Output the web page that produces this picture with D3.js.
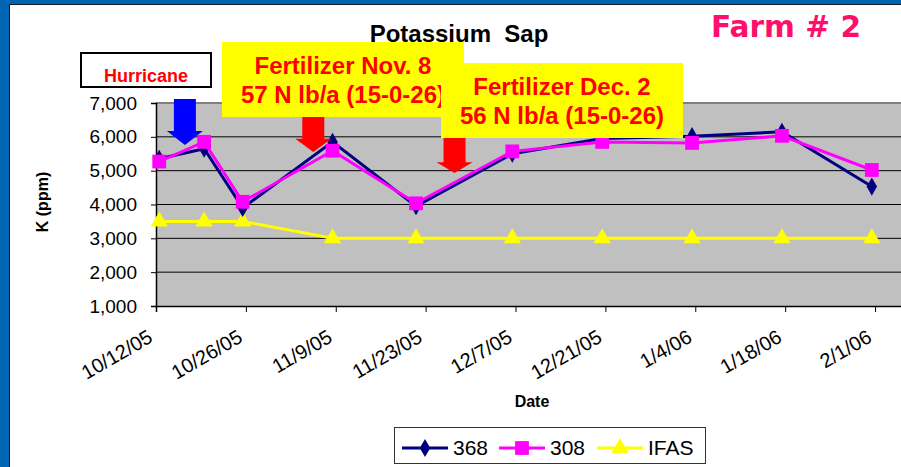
<!DOCTYPE html>
<html>
<head>
<meta charset="utf-8">
<script src="https://cdn.jsdelivr.net/npm/d3@7"></script>
<style>
  body { margin: 0; background: #fff; }
  svg { display: block; }
  svg text { font-family: "Liberation Sans", Arial, sans-serif; }
</style>
</head>
<body>
<svg id="chart" width="901" height="467"></svg>
<script>
// sample dates and K sap readings (ppm)
const sampleDates = ['2005-10-12', '2005-10-19', '2005-10-25', '2005-11-08', '2005-11-21',
  '2005-12-06', '2005-12-20', '2006-01-03', '2006-01-17', '2006-01-31'];
const k368 = [5350, 5650, 3900, 5850, 3950, 5500, 5950, 6020, 6150, 4530];
const k308 = [5270, 5850, 4080, 5590, 4035, 5570, 5850, 5820, 6030, 5020];
const kIfas = [3500, 3500, 3500, 3000, 3000, 3000, 3000, 3000, 3000, 3000];

const xTickLabels = ['10/12/05', '10/26/05', '11/9/05', '11/23/05', '12/7/05',
  '12/21/05', '1/4/06', '1/18/06', '2/1/06'];
const yTickValues = [1000, 2000, 3000, 4000, 5000, 6000, 7000];

// event arrows: date, tip value, value where the head starts, top value
const arrows = [
  {date: '2005-10-16', tip: 5760, head: 6170, top: 7120, color: '#0000ff'},
  {date: '2005-11-05', tip: 5550, head: 5940, top: 6800, color: '#ff0000'},
  {date: '2005-11-27', tip: 4930, head: 5250, top: 6200, color: '#ff0000'},
];

const parse = d3.timeParse('%Y-%m-%d');
const parseTick = d3.timeParse('%m/%d/%y');

const W = 901, H = 467;
const plot = {left: 156, top: 103, bottom: 306};

const svg = d3.select('#chart');

// blue frame
svg.append('rect').attr('width', W).attr('height', H).attr('fill', '#0066b3');
svg.append('rect')
  .attr('x', 9.5).attr('y', 4.5)
  .attr('width', W).attr('height', H)
  .attr('fill', '#fff').attr('stroke', '#1a1a1a').attr('stroke-width', 1);

const x = d3.scaleTime()
  .domain([parse('2005-10-12'), parse('2006-02-15')])
  .range([plot.left, plot.left + 126 * 6.42]);
const halfDay = (x(parse('2005-10-13')) - x(parse('2005-10-12'))) / 2;
const px = (d) => x(parse(d)) + halfDay;

const y = d3.scaleLinear().domain([1000, 7000]).range([plot.bottom, plot.top]);

// plot area
svg.append('rect')
  .attr('x', plot.left).attr('y', plot.top)
  .attr('width', W - plot.left).attr('height', plot.bottom - plot.top)
  .attr('fill', '#c0c0c0');

// gridlines
svg.append('g')
  .selectAll('line')
  .data(yTickValues.filter((v) => v > 1000 && v < 7000))
  .join('line')
  .attr('x1', plot.left).attr('x2', W)
  .attr('y1', (d) => y(d)).attr('y2', (d) => y(d))
  .attr('stroke', '#000').attr('stroke-width', 1);

svg.append('line')
  .attr('x1', plot.left).attr('x2', W)
  .attr('y1', plot.top).attr('y2', plot.top)
  .attr('stroke', '#808080').attr('stroke-width', 2);

// y axis
const yAxis = svg.append('g')
  .attr('transform', `translate(${plot.left},0)`)
  .call(d3.axisLeft(y).tickValues(yTickValues).tickSize(5).tickPadding(14)
    .tickFormat(d3.format(',')));
yAxis.attr('font-family', null).attr('font-size', null);
yAxis.select('.domain').attr('stroke', '#000').attr('stroke-width', 1.5);
yAxis.selectAll('line').attr('stroke', '#000');
yAxis.selectAll('text')
  .attr('fill', '#000')
  .style('font-size', '19px');

// x axis
const tickDates = xTickLabels.map((s) => parseTick(s));
const xAxis = svg.append('g')
  .attr('transform', `translate(0,${plot.bottom})`)
  .call(d3.axisBottom(x).tickValues(tickDates).tickSize(6).tickFormat(''));
xAxis.select('.domain').attr('stroke', '#000').attr('stroke-width', 1.5);
xAxis.selectAll('line').attr('stroke', '#000');

svg.append('g')
  .selectAll('text')
  .data(xTickLabels)
  .join('text')
  .attr('transform', (d) => `translate(${x(parseTick(d)) - 2},${plot.bottom + 35}) rotate(-30)`)
  .attr('text-anchor', 'end')
  .style('font-size', '20px')
  .attr('fill', '#000')
  .text((d) => d);

// axis titles
svg.append('text')
  .attr('transform', 'translate(48,202) rotate(-90)')
  .attr('text-anchor', 'middle')
  .style('font-size', '16px').style('font-weight', 'bold')
  .text('K (ppm)');

svg.append('text')
  .attr('x', 532).attr('y', 407)
  .attr('text-anchor', 'middle')
  .style('font-size', '16px').style('font-weight', 'bold')
  .text('Date');

// title
svg.append('text')
  .attr('x', 459).attr('y', 42)
  .attr('text-anchor', 'middle')
  .style('font-size', '24px').style('font-weight', 'bold')
  .style('white-space', 'pre')
  .text('Potassium  Sap');

svg.append('text')
  .attr('x', 711).attr('y', 37)
  .attr('textLength', 150).attr('lengthAdjust', 'spacingAndGlyphs')
  .style('font-family', '"Comic Sans MS", "DejaVu Sans", sans-serif')
  .style('font-size', '30px').style('font-weight', 'bold')
  .attr('fill', '#ff0f6b')
  .text('Farm # 2');

// series
const series = [
  {name: '368', values: k368, color: '#000080', shape: d3.symbolDiamond, size: 95},
  {name: '308', values: k308, color: '#ff00ff', shape: d3.symbolSquare, size: 190},
  {name: 'IFAS', values: kIfas, color: '#ffff00', shape: d3.symbolTriangle, size: 130},
];

const line = d3.line()
  .x((d) => px(d.date))
  .y((d) => y(d.value));

const drawOrder = [series[2], series[0], series[1]];
drawOrder.forEach((s) => {
  const pts = sampleDates.map((d, i) => ({date: d, value: s.values[i]}));
  svg.append('path')
    .datum(pts)
    .attr('fill', 'none')
    .attr('stroke', s.color)
    .attr('stroke-width', 3)
    .attr('d', line);
  svg.append('g')
    .selectAll('path')
    .data(pts)
    .join('path')
    .attr('transform', (d) => `translate(${px(d.date)},${y(d.value)})`)
    .attr('d', d3.symbol().type(s.shape).size(s.size))
    .attr('fill', s.color);
});

// arrows
const arrowPath = (a) => {
  const cx = x(parse(a.date)) + halfDay;
  const sw = 11, hw = 18;
  const tip = y(a.tip), head = y(a.head), top = y(a.top);
  return `M${cx - sw},${top}L${cx + sw},${top}L${cx + sw},${head}L${cx + hw},${head}` +
    `L${cx},${tip}L${cx - hw},${head}L${cx - sw},${head}Z`;
};
svg.append('g')
  .selectAll('path')
  .data(arrows)
  .join('path')
  .attr('d', arrowPath)
  .attr('fill', (d) => d.color);

// annotation boxes
const hurricane = svg.append('g');
hurricane.append('rect')
  .attr('x', 81).attr('y', 53).attr('width', 130).attr('height', 34)
  .attr('fill', '#fff').attr('stroke', '#000').attr('stroke-width', 2);
hurricane.append('text')
  .attr('x', 146).attr('y', 82)
  .attr('text-anchor', 'middle')
  .style('font-size', '18px').style('font-weight', 'bold')
  .attr('fill', '#ff0000')
  .text('Hurricane');

const notes = [
  {x: 222, y: 42, lines: ['Fertilizer Nov. 8', '57 N lb/a (15-0-26)']},
  {x: 441, y: 63, lines: ['Fertilizer Dec. 2', '56 N lb/a (15-0-26)']},
];
notes.forEach((n) => {
  const g = svg.append('g');
  g.append('rect')
    .attr('x', n.x).attr('y', n.y).attr('width', 242).attr('height', 75)
    .attr('fill', '#ffff00');
  g.selectAll('text')
    .data(n.lines)
    .join('text')
    .attr('x', n.x + 121)
    .attr('y', (d, i) => n.y + 32 + i * 29)
    .attr('text-anchor', 'middle')
    .style('font-size', '24px').style('font-weight', 'bold')
    .attr('fill', '#ff0000')
    .text((d) => d);
});

// legend
const legend = svg.append('g');
legend.append('rect')
  .attr('x', 394.5).attr('y', 427.5).attr('width', 311).attr('height', 36)
  .attr('fill', '#fff').attr('stroke', '#333').attr('stroke-width', 1);
const legendX = [402, 499, 597];
series.forEach((s, i) => {
  const lx = legendX[i];
  legend.append('line')
    .attr('x1', lx).attr('x2', lx + 46)
    .attr('y1', 448).attr('y2', 448)
    .attr('stroke', s.color).attr('stroke-width', 3);
  legend.append('path')
    .attr('transform', `translate(${lx + 23},448)`)
    .attr('d', d3.symbol().type(s.shape).size(s.size))
    .attr('fill', s.color);
  legend.append('text')
    .attr('x', lx + 51).attr('y', 455)
    .style('font-size', '21px')
    .text(s.name);
});
</script>
</body>
</html>
